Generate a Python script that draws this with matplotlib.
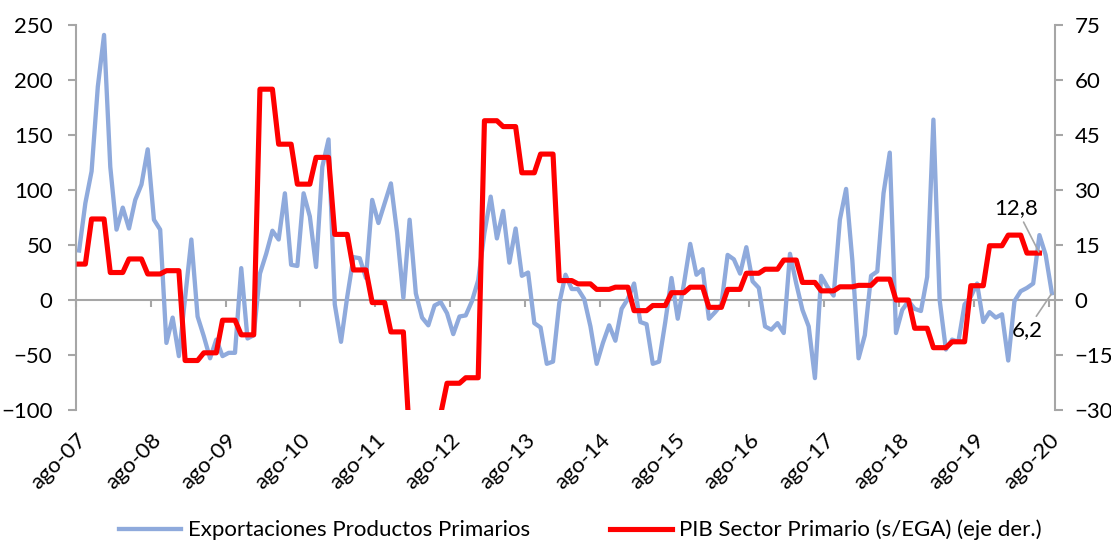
import numpy as np
import matplotlib
matplotlib.use("Agg")
import matplotlib.pyplot as plt

plt.rcParams['font.family'] = ['Lato', 'DejaVu Sans']

# Exportaciones productos primarios, mensual ago-07 .. ago-20 (eje izq.)
exportaciones = [
    45, 88, 117, 194, 241, 121, 64, 84, 65, 91, 105, 137,
    73, 64, -39, -16, -51, 2, 55, -15, -33, -53, -36, -51,
    -48, -48, 29, -35, -32, 24, 42, 63, 55, 97, 32, 31,
    97, 76, 30, 121, 146, -4, -38, 3, 39, 38, 20, 91,
    70, 88, 106, 61, 2, 73, 6, -16, -23, -5, -2, -12,
    -31, -15, -14, -1, 18, 61, 94, 56, 81, 34, 65, 22,
    25, -21, -25, -58, -56, -3, 23, 10, 10, 1, -24, -58,
    -39, -23, -37, -8, 1, 15, -20, -22, -58, -56, -20, 20,
    -17, 15, 51, 23, 28, -17, -11, -4, 41, 37, 24, 48,
    17, 11, -24, -27, -21, -30, 42, 15, -9, -24, -71, 22,
    12, 4, 73, 101, 36, -53, -32, 22, 26, 97, 134, -30,
    -9, -1, -8, -10, 21, 164, 0, -45, -36, -38, -4, 3,
    15, -20, -11, -16, -13, -55, -1, 8, 11, 15, 59, 41,
    6.2,
]

# PIB sector primario (s/EGA), trimestral III-07 .. II-20 (eje der.)
pib_trim = [
    9.8, 22.1,
    7.5, 11.2, 7.1, 8.0,
    -16.5, -14.4, -5.5, -9.5,
    57.5, 42.5, 31.6, 38.9,
    17.9, 8.2, -0.7, -8.7,
    -38.0, -31.0, -22.7, -21.2,
    48.9, 47.3, 34.7, 39.8,
    5.3, 4.4, 2.9, 3.5,
    -2.9, -1.5, 2.0, 3.5,
    -2.0, 2.9, 7.3, 8.4,
    10.9, 4.8, 2.5, 3.6,
    4.0, 5.7, 0.0, -7.7,
    -13.0, -11.4, 3.9, 14.8,
    17.7, 12.8,
]
# el trimestre III-07 solo tiene ago y sep en la serie mensual
meses_por_trim = [2] + [3] * (len(pib_trim) - 1)
pib_mensual = np.repeat(pib_trim, meses_por_trim)

etiquetas = ['ago-07', 'ago-08', 'ago-09', 'ago-10', 'ago-11', 'ago-12', 'ago-13',
             'ago-14', 'ago-15', 'ago-16', 'ago-17', 'ago-18', 'ago-19', 'ago-20']

azul = '#8FAADC'
rojo = '#FF0000'
gris = '#A6A6A6'
fs = 16

fig = plt.figure(figsize=(11.11, 5.44), dpi=100)
ax = fig.add_axes([0.0684, 0.2463, 0.8812, 0.7077])
ax2 = ax.twinx()

x_exp = np.arange(len(exportaciones))
x_pib = np.arange(len(pib_mensual))
l1, = ax.plot(x_exp, exportaciones, color=azul, lw=3.1,
              solid_joinstyle='round', label='Exportaciones Productos Primarios')
l2, = ax2.plot(x_pib, pib_mensual, color=rojo, lw=3.7,
               solid_joinstyle='round', label='PIB Sector Primario (s/EGA) (eje der.)')

ax.set_ylim(-100, 250)
ax.set_yticks(range(-100, 251, 50))
ax2.set_ylim(-30, 75)
ax2.set_yticks(range(-30, 76, 15))
ax.set_xlim(-0.5, len(exportaciones) - 0.5)

# eje de categorias cruzando en cero, etiquetas abajo
ticks_x = np.arange(-0.5, len(exportaciones), 12)
ax.spines['bottom'].set_position(('data', 0))
ax.spines['bottom'].set_color(gris)
ax.spines['bottom'].set_linewidth(1.5)
ax.spines['bottom'].set_zorder(1)
ax.set_xticks(ticks_x)
ax.tick_params(axis='x', direction='out', length=5, width=1.5, color=gris, labelbottom=False)

sec = ax.secondary_xaxis('bottom')
sec.set_xticks(ticks_x, labels=etiquetas)
sec.tick_params(length=0, pad=14, labelsize=fs)
sec.spines['bottom'].set_visible(False)
for lab in sec.get_xticklabels():
    lab.set_rotation(45)
    lab.set_ha('right')
    lab.set_rotation_mode('anchor')

for s in ['top', 'right']:
    ax.spines[s].set_visible(False)
for s in ['top', 'bottom', 'left']:
    ax2.spines[s].set_visible(False)
ax.spines['left'].set_color(gris)
ax.spines['left'].set_linewidth(1.5)
ax2.spines['right'].set_color(gris)
ax2.spines['right'].set_linewidth(1.5)
ax.tick_params(axis='y', direction='out', length=6, width=1.5, color=gris, labelsize=fs, pad=11)
ax2.tick_params(axis='y', direction='out', length=6, width=1.5, color=gris, labelsize=fs, pad=8)

ax2.annotate('12,8', xy=(x_pib[-1], pib_mensual[-1]), xytext=(-23, 45),
             textcoords='offset pixels', ha='center', va='center', fontsize=fs,
             arrowprops=dict(arrowstyle='-', color=gris, lw=1.2, shrinkA=1, shrinkB=1))
ax.annotate('6,2', xy=(x_exp[-1], exportaciones[-1]), xytext=(-25, -37),
            textcoords='offset pixels', ha='center', va='center', fontsize=fs,
            arrowprops=dict(arrowstyle='-', color=gris, lw=1.2, shrinkA=1, shrinkB=1))

fig.legend(handles=[l1, l2], loc='lower center', bbox_to_anchor=(0.522, -0.03),
           ncol=2, frameon=False, fontsize=fs, handlelength=2.8,
           handletextpad=0.3, columnspacing=3.6)

fig.savefig('out.png', dpi=100)
